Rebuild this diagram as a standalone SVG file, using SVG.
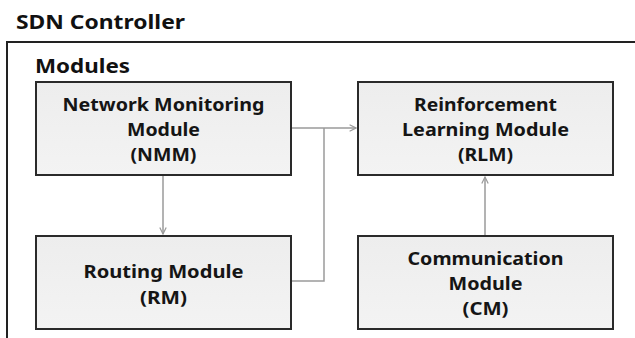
<svg xmlns="http://www.w3.org/2000/svg" width="635" height="338" viewBox="0 0 635 338">
<defs>
<linearGradient id="g" x1="0" y1="0" x2="0" y2="1">
<stop offset="0" stop-color="#ededed"/>
<stop offset="1" stop-color="#f3f3f3"/>
</linearGradient>
<marker id="arr" viewBox="0 0 10 10" refX="9" refY="5" markerWidth="8" markerHeight="8" markerUnits="userSpaceOnUse" orient="auto">
<path d="M1,1 L9,5 L1,9" fill="none" stroke="#999" stroke-width="1.5"/>
</marker>
<style>
.title{font-family:"Noto Sans","Liberation Sans",sans-serif;font-weight:bold;font-size:20px;fill:#111}
.box{fill:url(#g);stroke:#2a2a2a;stroke-width:2}
.lbl{font-family:"Noto Sans","Liberation Sans",sans-serif;font-weight:bold;font-size:17px;fill:#151515;text-anchor:middle}
.con{fill:none;stroke:#9a9a9a;stroke-width:1.5}
</style>
</defs>
<rect width="635" height="338" fill="#fff"/>
<g id="controller">
<text class="title" x="16" y="29" textLength="169" lengthAdjust="spacingAndGlyphs">SDN Controller</text>
<rect x="7" y="42" width="640" height="310" fill="#fff" stroke="#222" stroke-width="2"/>
<text class="title" x="35" y="73" textLength="95" lengthAdjust="spacingAndGlyphs">Modules</text>
</g>
<g id="nmm">
<rect class="box" x="36" y="82" width="255" height="93"/>
<text class="lbl" x="163.5" y="111" textLength="202" lengthAdjust="spacingAndGlyphs">Network Monitoring</text>
<text class="lbl" x="163.5" y="136" textLength="73" lengthAdjust="spacingAndGlyphs">Module</text>
<text class="lbl" x="163.5" y="161" textLength="66" lengthAdjust="spacingAndGlyphs">(NMM)</text>
</g>
<g id="rm">
<rect class="box" x="36" y="236" width="255" height="93"/>
<text class="lbl" x="163.5" y="278" textLength="160" lengthAdjust="spacingAndGlyphs">Routing Module</text>
<text class="lbl" x="163.5" y="304" textLength="47" lengthAdjust="spacingAndGlyphs">(RM)</text>
</g>
<g id="rlm">
<rect class="box" x="358" y="82" width="255" height="93"/>
<text class="lbl" x="485.5" y="111" textLength="143" lengthAdjust="spacingAndGlyphs">Reinforcement</text>
<text class="lbl" x="485.5" y="136" textLength="167" lengthAdjust="spacingAndGlyphs">Learning Module</text>
<text class="lbl" x="485.5" y="161" textLength="55" lengthAdjust="spacingAndGlyphs">(RLM)</text>
</g>
<g id="cm">
<rect class="box" x="358" y="236" width="255" height="93"/>
<text class="lbl" x="485.5" y="265" textLength="156" lengthAdjust="spacingAndGlyphs">Communication</text>
<text class="lbl" x="485.5" y="290" textLength="74" lengthAdjust="spacingAndGlyphs">Module</text>
<text class="lbl" x="485.5" y="315" textLength="46" lengthAdjust="spacingAndGlyphs">(CM)</text>
</g>
<g id="connectors">
<path class="con" d="M163,176 V234" marker-end="url(#arr)"/>
<path class="con" d="M485,235 V177" marker-end="url(#arr)"/>
<path class="con" d="M292,128 H356" marker-end="url(#arr)"/>
<path class="con" d="M292,281 H324 V128"/>
</g>
</svg>
